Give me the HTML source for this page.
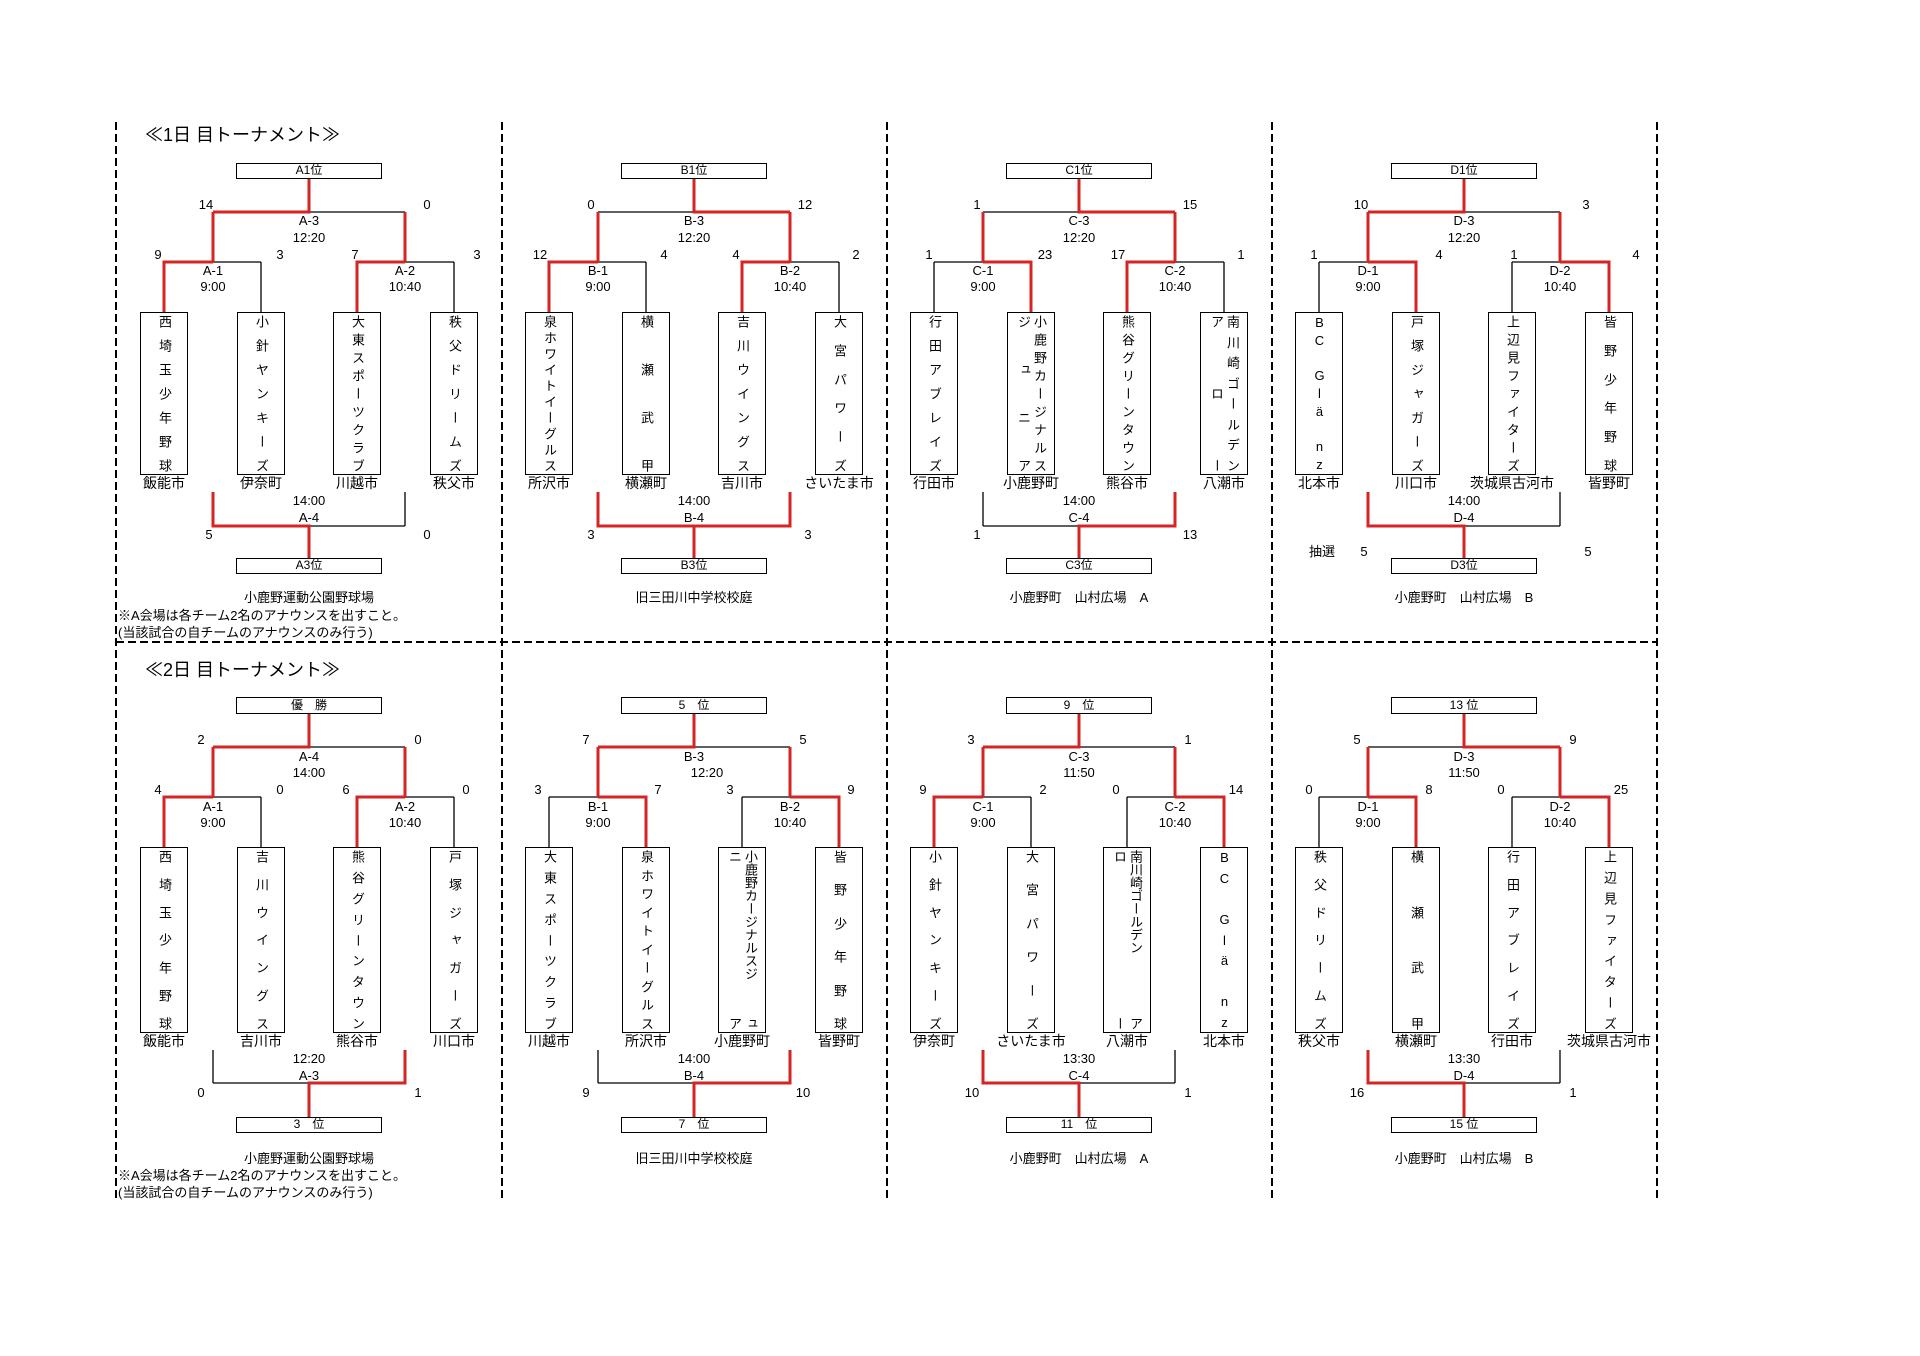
<!DOCTYPE html>
<html><head><meta charset="utf-8"><style>
html,body{margin:0;padding:0;background:#fff}
body{width:1920px;height:1356px;position:relative;overflow:hidden;font-family:"Liberation Sans","Noto Sans CJK JP",sans-serif;color:#000}
svg{position:absolute;left:0;top:0}
svg text{font-family:"Liberation Sans","Noto Sans CJK JP",sans-serif;font-size:13px;fill:#000}
.t,.tb{position:absolute;width:48px;border:1.5px solid #000;box-sizing:border-box;display:flex;flex-direction:row-reverse;justify-content:center;padding:2px 0;background:#fff}
.t{top:312px;height:163px}.tb{top:847px;height:186px}
.c{display:flex;flex-direction:column;justify-content:space-between;align-items:center;width:16px;height:100%}
.c i{font-style:normal;writing-mode:vertical-rl;font-size:13px;line-height:14px}
.u i{text-orientation:upright}
.city{position:absolute;width:140px;text-align:center;font-size:14px;line-height:18px}
.bx{position:absolute;width:146px;border:1.5px solid #000;box-sizing:border-box;text-align:center;font-size:12px;background:#fff}
</style></head><body>
<svg width="1920" height="1356" viewBox="0 0 1920 1356">
<defs>
<g id="skT" fill="none" stroke="#000" stroke-width="1.3"><path d="M0 178V212M-96 212H96M-96 212V262M96 212V262M-145 262H-48M48 262H145M-145 262V312M-48 262V312M48 262V312M145 262V312M-96 492V526M96 492V526M-96 526H96M0 526V558"/></g>
<g id="skB" fill="none" stroke="#000" stroke-width="1.3"><path d="M0 714V747M-96 747H96M-96 747V797M96 747V797M-145 797H-48M48 797H145M-145 797V847M-48 797V847M48 797V847M145 797V847M-96 1050V1083M96 1050V1083M-96 1083H96M0 1083V1117"/></g>
</defs>
<g stroke="#000" stroke-width="2" stroke-dasharray="8 4" fill="none">
<path d="M116 122V1200M502 122V1200M887 122V1200M1272 122V1200M1657 122V1200M116 642H1657"/>
</g>
<use href="#skT" x="309"/><use href="#skT" x="694"/><use href="#skT" x="1079"/><use href="#skT" x="1464"/>
<use href="#skB" x="309"/><use href="#skB" x="694"/><use href="#skB" x="1079"/><use href="#skB" x="1464"/>
<g fill="none" stroke="#d42424" stroke-width="3">
<path transform="translate(309,0)" d="M-145 312V262H-96M48 312V262H96M-96 262V212M96 262V212M-96 212H0V178M-96 492V526H0V558"/>
<path transform="translate(694,0)" d="M-145 312V262H-96M48 312V262H96M-96 262V212M96 262V212M96 212H0V178M-96 492V526H96V492M0 526V558"/>
<path transform="translate(1079,0)" d="M-48 312V262H-96M48 312V262H96M-96 262V212M96 262V212M96 212H0V178M96 492V526H0V558"/>
<path transform="translate(1464,0)" d="M-48 312V262H-96M145 312V262H96M-96 262V212M96 262V212M-96 212H0V178M-96 492V526H0V558"/>
<path transform="translate(309,0)" d="M-145 847V797H-96M48 847V797H96M-96 797V747M96 797V747M-96 747H0V714M96 1050V1083H0V1117"/>
<path transform="translate(694,0)" d="M-48 847V797H-96M145 847V797H96M-96 797V747M96 797V747M-96 747H0V714M96 1050V1083H0V1117"/>
<path transform="translate(1079,0)" d="M-145 847V797H-96M145 847V797H96M-96 797V747M96 797V747M-96 747H0V714M-96 1050V1083H0V1117"/>
<path transform="translate(1464,0)" d="M-48 847V797H-96M145 847V797H96M-96 797V747M96 797V747M96 747H0V714M-96 1050V1083H0V1117"/>
</g>
<text x="145" y="141" style="font-size:18px">≪1日 目トーナメント≫</text>
<text x="145" y="676" style="font-size:18px">≪2日 目トーナメント≫</text>
<g text-anchor="middle">
<g transform="translate(309,0)">
<text x="-103" y="209">14</text><text x="118" y="209">0</text>
<text x="-151" y="259">9</text><text x="-29" y="259">3</text><text x="46" y="259">7</text><text x="168" y="259">3</text>
<text x="0" y="225">A-3</text><text x="0" y="242">12:20</text>
<text x="-96" y="275">A-1</text><text x="-96" y="291">9:00</text><text x="96" y="275">A-2</text><text x="96" y="291">10:40</text>
<text x="0" y="505">14:00</text><text x="0" y="522">A-4</text>
<text x="-100" y="539">5</text><text x="118" y="539">0</text>
<text x="0" y="602">小鹿野運動公園野球場</text>
</g>
<g transform="translate(694,0)">
<text x="-103" y="209">0</text><text x="111" y="209">12</text>
<text x="-154" y="259">12</text><text x="-30" y="259">4</text><text x="42" y="259">4</text><text x="162" y="259">2</text>
<text x="0" y="225">B-3</text><text x="0" y="242">12:20</text>
<text x="-96" y="275">B-1</text><text x="-96" y="291">9:00</text><text x="96" y="275">B-2</text><text x="96" y="291">10:40</text>
<text x="0" y="505">14:00</text><text x="0" y="522">B-4</text>
<text x="-103" y="539">3</text><text x="114" y="539">3</text>
<text x="0" y="602">旧三田川中学校校庭</text>
</g>
<g transform="translate(1079,0)">
<text x="-102" y="209">1</text><text x="111" y="209">15</text>
<text x="-150" y="259">1</text><text x="-34" y="259">23</text><text x="39" y="259">17</text><text x="162" y="259">1</text>
<text x="0" y="225">C-3</text><text x="0" y="242">12:20</text>
<text x="-96" y="275">C-1</text><text x="-96" y="291">9:00</text><text x="96" y="275">C-2</text><text x="96" y="291">10:40</text>
<text x="0" y="505">14:00</text><text x="0" y="522">C-4</text>
<text x="-102" y="539">1</text><text x="111" y="539">13</text>
<text x="0" y="602">小鹿野町　山村広場　A</text>
</g>
<g transform="translate(1464,0)">
<text x="-103" y="209">10</text><text x="122" y="209">3</text>
<text x="-150" y="259">1</text><text x="-25" y="259">4</text><text x="50" y="259">1</text><text x="172" y="259">4</text>
<text x="0" y="225">D-3</text><text x="0" y="242">12:20</text>
<text x="-96" y="275">D-1</text><text x="-96" y="291">9:00</text><text x="96" y="275">D-2</text><text x="96" y="291">10:40</text>
<text x="0" y="505">14:00</text><text x="0" y="522">D-4</text>
<text x="-142" y="556">抽選</text><text x="-100" y="556">5</text><text x="124" y="556">5</text>
<text x="0" y="602">小鹿野町　山村広場　B</text>
</g>
<g transform="translate(309,0)">
<text x="-108" y="744">2</text><text x="109" y="744">0</text>
<text x="-151" y="794">4</text><text x="-29" y="794">0</text><text x="37" y="794">6</text><text x="157" y="794">0</text>
<text x="0" y="761">A-4</text><text x="0" y="777">14:00</text>
<text x="-96" y="811">A-1</text><text x="-96" y="827">9:00</text><text x="96" y="811">A-2</text><text x="96" y="827">10:40</text>
<text x="0" y="1063">12:20</text><text x="0" y="1080">A-3</text>
<text x="-108" y="1097">0</text><text x="109" y="1097">1</text>
<text x="0" y="1163">小鹿野運動公園野球場</text>
</g>
<g transform="translate(694,0)">
<text x="-108" y="744">7</text><text x="109" y="744">5</text>
<text x="-156" y="794">3</text><text x="-36" y="794">7</text><text x="36" y="794">3</text><text x="157" y="794">9</text>
<text x="0" y="761">B-3</text><text x="13" y="777">12:20</text>
<text x="-96" y="811">B-1</text><text x="-96" y="827">9:00</text><text x="96" y="811">B-2</text><text x="96" y="827">10:40</text>
<text x="0" y="1063">14:00</text><text x="0" y="1080">B-4</text>
<text x="-108" y="1097">9</text><text x="109" y="1097">10</text>
<text x="0" y="1163">旧三田川中学校校庭</text>
</g>
<g transform="translate(1079,0)">
<text x="-108" y="744">3</text><text x="109" y="744">1</text>
<text x="-156" y="794">9</text><text x="-36" y="794">2</text><text x="37" y="794">0</text><text x="157" y="794">14</text>
<text x="0" y="761">C-3</text><text x="0" y="777">11:50</text>
<text x="-96" y="811">C-1</text><text x="-96" y="827">9:00</text><text x="96" y="811">C-2</text><text x="96" y="827">10:40</text>
<text x="0" y="1063">13:30</text><text x="0" y="1080">C-4</text>
<text x="-107" y="1097">10</text><text x="109" y="1097">1</text>
<text x="0" y="1163">小鹿野町　山村広場　A</text>
</g>
<g transform="translate(1464,0)">
<text x="-107" y="744">5</text><text x="109" y="744">9</text>
<text x="-155" y="794">0</text><text x="-35" y="794">8</text><text x="37" y="794">0</text><text x="157" y="794">25</text>
<text x="0" y="761">D-3</text><text x="0" y="777">11:50</text>
<text x="-96" y="811">D-1</text><text x="-96" y="827">9:00</text><text x="96" y="811">D-2</text><text x="96" y="827">10:40</text>
<text x="0" y="1063">13:30</text><text x="0" y="1080">D-4</text>
<text x="-107" y="1097">16</text><text x="109" y="1097">1</text>
<text x="0" y="1163">小鹿野町　山村広場　B</text>
</g>
</g>
<text x="118" y="620">※A会場は各チーム2名のアナウンスを出すこと。</text>
<text x="118" y="637">(当該試合の自チームのアナウンスのみ行う)</text>
<text x="118" y="1180">※A会場は各チーム2名のアナウンスを出すこと。</text>
<text x="118" y="1197">(当該試合の自チームのアナウンスのみ行う)</text>
</svg>

<!-- top boxes -->
<div class="bx" style="left:236px;top:163px;height:16px;line-height:13px">A1位</div>
<div class="bx" style="left:621px;top:163px;height:16px;line-height:13px">B1位</div>
<div class="bx" style="left:1006px;top:163px;height:16px;line-height:13px">C1位</div>
<div class="bx" style="left:1391px;top:163px;height:16px;line-height:13px">D1位</div>
<div class="bx" style="left:236px;top:558px;height:16px;line-height:13px">A3位</div>
<div class="bx" style="left:621px;top:558px;height:16px;line-height:13px">B3位</div>
<div class="bx" style="left:1006px;top:558px;height:16px;line-height:13px">C3位</div>
<div class="bx" style="left:1391px;top:558px;height:16px;line-height:13px">D3位</div>
<div class="bx" style="left:236px;top:697px;height:17px;line-height:14px">優　勝</div>
<div class="bx" style="left:621px;top:697px;height:17px;line-height:14px">5　位</div>
<div class="bx" style="left:1006px;top:697px;height:17px;line-height:14px">9　位</div>
<div class="bx" style="left:1391px;top:697px;height:17px;line-height:14px">13 位</div>
<div class="bx" style="left:236px;top:1117px;height:16px;line-height:13px">3　位</div>
<div class="bx" style="left:621px;top:1117px;height:16px;line-height:13px">7　位</div>
<div class="bx" style="left:1006px;top:1117px;height:16px;line-height:13px">11　位</div>
<div class="bx" style="left:1391px;top:1117px;height:16px;line-height:13px">15 位</div>

<!-- top teams -->
<div class="t" style="left:140px"><div class="c"><i>西</i><i>埼</i><i>玉</i><i>少</i><i>年</i><i>野</i><i>球</i></div></div>
<div class="t" style="left:237px"><div class="c"><i>小</i><i>針</i><i>ヤ</i><i>ン</i><i>キ</i><i>ー</i><i>ズ</i></div></div>
<div class="t" style="left:333px"><div class="c"><i>大</i><i>東</i><i>ス</i><i>ポ</i><i>ー</i><i>ツ</i><i>ク</i><i>ラ</i><i>ブ</i></div></div>
<div class="t" style="left:430px"><div class="c"><i>秩</i><i>父</i><i>ド</i><i>リ</i><i>ー</i><i>ム</i><i>ズ</i></div></div>
<div class="t" style="left:525px"><div class="c"><i>泉</i><i>ホ</i><i>ワ</i><i>イ</i><i>ト</i><i>イ</i><i>ー</i><i>グ</i><i>ル</i><i>ス</i></div></div>
<div class="t" style="left:622px"><div class="c"><i>横</i><i>瀬</i><i>武</i><i>甲</i></div></div>
<div class="t" style="left:718px"><div class="c"><i>吉</i><i>川</i><i>ウ</i><i>イ</i><i>ン</i><i>グ</i><i>ス</i></div></div>
<div class="t" style="left:815px"><div class="c"><i>大</i><i>宮</i><i>パ</i><i>ワ</i><i>ー</i><i>ズ</i></div></div>
<div class="t" style="left:910px"><div class="c"><i>行</i><i>田</i><i>ア</i><i>ブ</i><i>レ</i><i>イ</i><i>ズ</i></div></div>
<div class="t" style="left:1007px"><div class="c"><i>小</i><i>鹿</i><i>野</i><i>カ</i><i>ー</i><i>ジ</i><i>ナ</i><i>ル</i><i>ス</i></div><div class="c"><i>ジ</i><i>ュ</i><i>ニ</i><i>ア</i></div></div>
<div class="t" style="left:1103px"><div class="c"><i>熊</i><i>谷</i><i>グ</i><i>リ</i><i>ー</i><i>ン</i><i>タ</i><i>ウ</i><i>ン</i></div></div>
<div class="t" style="left:1200px"><div class="c"><i>南</i><i>川</i><i>崎</i><i>ゴ</i><i>ー</i><i>ル</i><i>デ</i><i>ン</i></div><div class="c"><i>ア</i><i>ロ</i><i>ー</i></div></div>
<div class="t" style="left:1295px"><div class="c u"><i>B</i><i>C</i><i>&nbsp;</i><i>G</i><i>l</i><i>ä</i><i>&nbsp;</i><i>n</i><i>z</i></div></div>
<div class="t" style="left:1392px"><div class="c"><i>戸</i><i>塚</i><i>ジ</i><i>ャ</i><i>ガ</i><i>ー</i><i>ズ</i></div></div>
<div class="t" style="left:1488px"><div class="c"><i>上</i><i>辺</i><i>見</i><i>フ</i><i>ァ</i><i>イ</i><i>タ</i><i>ー</i><i>ズ</i></div></div>
<div class="t" style="left:1585px"><div class="c"><i>皆</i><i>野</i><i>少</i><i>年</i><i>野</i><i>球</i></div></div>

<!-- bottom teams -->
<div class="tb" style="left:140px"><div class="c"><i>西</i><i>埼</i><i>玉</i><i>少</i><i>年</i><i>野</i><i>球</i></div></div>
<div class="tb" style="left:237px"><div class="c"><i>吉</i><i>川</i><i>ウ</i><i>イ</i><i>ン</i><i>グ</i><i>ス</i></div></div>
<div class="tb" style="left:333px"><div class="c"><i>熊</i><i>谷</i><i>グ</i><i>リ</i><i>ー</i><i>ン</i><i>タ</i><i>ウ</i><i>ン</i></div></div>
<div class="tb" style="left:430px"><div class="c"><i>戸</i><i>塚</i><i>ジ</i><i>ャ</i><i>ガ</i><i>ー</i><i>ズ</i></div></div>
<div class="tb" style="left:525px"><div class="c"><i>大</i><i>東</i><i>ス</i><i>ポ</i><i>ー</i><i>ツ</i><i>ク</i><i>ラ</i><i>ブ</i></div></div>
<div class="tb" style="left:622px"><div class="c"><i>泉</i><i>ホ</i><i>ワ</i><i>イ</i><i>ト</i><i>イ</i><i>ー</i><i>グ</i><i>ル</i><i>ス</i></div></div>
<div class="tb" style="left:718px"><div class="c"><i>小鹿野カージナルスジ</i><i>ュ</i></div><div class="c"><i>ニ</i><i>ア</i></div></div>
<div class="tb" style="left:815px"><div class="c"><i>皆</i><i>野</i><i>少</i><i>年</i><i>野</i><i>球</i></div></div>
<div class="tb" style="left:910px"><div class="c"><i>小</i><i>針</i><i>ヤ</i><i>ン</i><i>キ</i><i>ー</i><i>ズ</i></div></div>
<div class="tb" style="left:1007px"><div class="c"><i>大</i><i>宮</i><i>パ</i><i>ワ</i><i>ー</i><i>ズ</i></div></div>
<div class="tb" style="left:1103px"><div class="c"><i>南川崎ゴールデン</i><i>ア</i></div><div class="c"><i>ロ</i><i>ー</i></div></div>
<div class="tb" style="left:1200px"><div class="c u"><i>B</i><i>C</i><i>&nbsp;</i><i>G</i><i>l</i><i>ä</i><i>&nbsp;</i><i>n</i><i>z</i></div></div>
<div class="tb" style="left:1295px"><div class="c"><i>秩</i><i>父</i><i>ド</i><i>リ</i><i>ー</i><i>ム</i><i>ズ</i></div></div>
<div class="tb" style="left:1392px"><div class="c"><i>横</i><i>瀬</i><i>武</i><i>甲</i></div></div>
<div class="tb" style="left:1488px"><div class="c"><i>行</i><i>田</i><i>ア</i><i>ブ</i><i>レ</i><i>イ</i><i>ズ</i></div></div>
<div class="tb" style="left:1585px"><div class="c"><i>上</i><i>辺</i><i>見</i><i>フ</i><i>ァ</i><i>イ</i><i>タ</i><i>ー</i><i>ズ</i></div></div>

<!-- cities top -->
<div class="city" style="left:94px;top:474px">飯能市</div>
<div class="city" style="left:191px;top:474px">伊奈町</div>
<div class="city" style="left:287px;top:474px">川越市</div>
<div class="city" style="left:384px;top:474px">秩父市</div>
<div class="city" style="left:479px;top:474px">所沢市</div>
<div class="city" style="left:576px;top:474px">横瀬町</div>
<div class="city" style="left:672px;top:474px">吉川市</div>
<div class="city" style="left:769px;top:474px">さいたま市</div>
<div class="city" style="left:864px;top:474px">行田市</div>
<div class="city" style="left:961px;top:474px">小鹿野町</div>
<div class="city" style="left:1057px;top:474px">熊谷市</div>
<div class="city" style="left:1154px;top:474px">八潮市</div>
<div class="city" style="left:1249px;top:474px">北本市</div>
<div class="city" style="left:1346px;top:474px">川口市</div>
<div class="city" style="left:1442px;top:474px">茨城県古河市</div>
<div class="city" style="left:1539px;top:474px">皆野町</div>
<!-- cities bottom -->
<div class="city" style="left:94px;top:1032px">飯能市</div>
<div class="city" style="left:191px;top:1032px">吉川市</div>
<div class="city" style="left:287px;top:1032px">熊谷市</div>
<div class="city" style="left:384px;top:1032px">川口市</div>
<div class="city" style="left:479px;top:1032px">川越市</div>
<div class="city" style="left:576px;top:1032px">所沢市</div>
<div class="city" style="left:672px;top:1032px">小鹿野町</div>
<div class="city" style="left:769px;top:1032px">皆野町</div>
<div class="city" style="left:864px;top:1032px">伊奈町</div>
<div class="city" style="left:961px;top:1032px">さいたま市</div>
<div class="city" style="left:1057px;top:1032px">八潮市</div>
<div class="city" style="left:1154px;top:1032px">北本市</div>
<div class="city" style="left:1249px;top:1032px">秩父市</div>
<div class="city" style="left:1346px;top:1032px">横瀬町</div>
<div class="city" style="left:1442px;top:1032px">行田市</div>
<div class="city" style="left:1539px;top:1032px">茨城県古河市</div>
</body></html>
